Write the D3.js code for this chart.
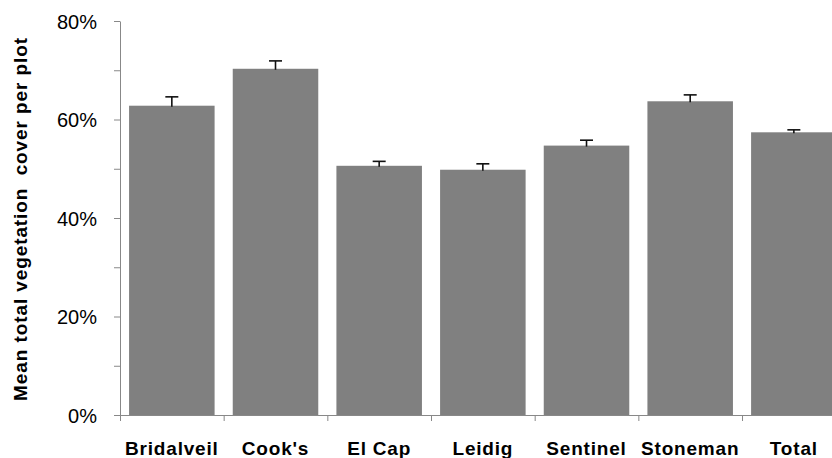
<!DOCTYPE html>
<html>
<head>
<meta charset="utf-8">
<script src="https://cdn.jsdelivr.net/npm/d3@7/dist/d3.min.js"></script>
<style>
  html, body { margin: 0; padding: 0; background: #fff; }
  svg { display: block; }
  text { font-family: Arial, "Liberation Sans", sans-serif; }
</style>
</head>
<body>
<svg id="chart" width="832" height="458"></svg>
<script>
const categories = ["Bridalveil", "Cook's", "El Cap", "Leidig", "Sentinel", "Stoneman", "Total"];
const means = [62.8, 70.3, 50.6, 49.8, 54.7, 63.7, 57.4];
const errors = [1.8, 1.6, 0.9, 1.2, 1.1, 1.3, 0.5];
const yTicks = [0, 10, 20, 30, 40, 50, 60, 70, 80];
const yLabelTicks = [0, 20, 40, 60, 80];
const yTitle = "Mean total vegetation  cover per plot";

const svg = d3.select("#chart");
const x0 = 120, y0 = 415, yTop = 21;
const step = 103.67;
const x1 = x0 + step * categories.length;

const x = d3.scaleBand().domain(categories).range([x0, x1])
  .paddingInner(0.175).paddingOuter(0.0875);
const y = d3.scaleLinear().domain([0, 80]).range([y0, yTop]);
const xb = d3.scaleLinear().domain([0, categories.length]).range([x0, x1]);

// bars
svg.append("g").selectAll("rect").data(categories).join("rect")
  .attr("x", d => x(d)).attr("width", x.bandwidth())
  .attr("y", (d, i) => y(means[i]))
  .attr("height", (d, i) => y0 - y(means[i]))
  .attr("fill", "#808080");

// error bars (plus only)
const eg = svg.append("g").attr("stroke", "#111").attr("stroke-width", 1.6);
categories.forEach((c, i) => {
  const cx = x(c) + x.bandwidth() / 2;
  eg.append("line").attr("x1", cx).attr("x2", cx)
    .attr("y1", y(means[i]) + 1).attr("y2", y(means[i] + errors[i]));
  eg.append("line").attr("x1", cx - 6.5).attr("x2", cx + 6.5)
    .attr("y1", y(means[i] + errors[i])).attr("y2", y(means[i] + errors[i]));
});

// y axis
const yAxis = svg.append("g").attr("transform", `translate(${x0},0)`)
  .call(d3.axisLeft(y).tickValues(yTicks).tickSize(6).tickSizeOuter(0)
    .tickFormat(d => yLabelTicks.includes(d) ? d + "%" : ""));
yAxis.select(".domain").attr("stroke", "#888");
yAxis.selectAll(".tick line").attr("stroke", "#888");
yAxis.selectAll(".tick text").attr("x", -23).attr("dy", "0.36em")
  .attr("font-size", 20).attr("fill", "#000")
  .attr("font-family", 'Arial, "Liberation Sans", sans-serif');

// x axis (boundary ticks)
const xAxis = svg.append("g").attr("transform", `translate(0,${y0})`)
  .call(d3.axisBottom(xb).tickValues(d3.range(0, categories.length + 1))
    .tickSize(6).tickSizeOuter(0).tickFormat(""));
xAxis.select(".domain").attr("stroke", "#888");
xAxis.selectAll(".tick line").attr("stroke", "#888");

// category labels
const xLab = svg.append("g").attr("transform", `translate(0,${y0})`)
  .call(d3.axisBottom(x).tickSize(0));
xLab.select(".domain").remove();
xLab.selectAll(".tick text").attr("y", 40).attr("dy", 0)
  .attr("font-size", 19).attr("font-weight", "bold").attr("fill", "#000")
  .attr("letter-spacing", 0.8)
  .attr("font-family", 'Arial, "Liberation Sans", sans-serif');

// y title
svg.append("text")
  .attr("transform", `translate(27,219) rotate(-90)`)
  .attr("text-anchor", "middle")
  .attr("font-size", 19).attr("font-weight", "bold")
  .attr("letter-spacing", 0.9)
  .style("white-space", "pre")
  .text(yTitle);
</script>
</body>
</html>
